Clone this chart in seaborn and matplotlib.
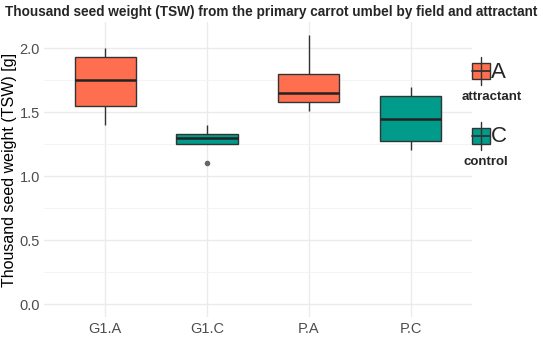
import pandas as pd
import numpy as np
import seaborn as sns
import matplotlib.pyplot as plt
from matplotlib.patches import Rectangle

# five-number style samples (min, q1, median, q3, max)
groups = ["G1.A", "G1.C", "P.A", "P.C"]
treatment = ["A", "C", "A", "C"]
tsw_g1a = [1.40, 1.55, 1.75, 1.93, 2.00]
tsw_g1c = [1.10, 1.25, 1.30, 1.325, 1.40]
tsw_pa = [1.505, 1.58, 1.65, 1.80, 2.10]
tsw_pc = [1.20, 1.275, 1.45, 1.625, 1.70]
legend_labels = {"A": "attractant", "C": "control"}
colors = {"A": "#FF6F4F", "C": "#009B8A"}

rows = []
for g, t, vals in zip(groups, treatment, [tsw_g1a, tsw_g1c, tsw_pa, tsw_pc]):
    for v in vals:
        rows.append({"group": g, "treatment": t, "tsw": v})
df = pd.DataFrame(rows)

sns.set_style("white")
plt.rcParams['font.family'] = ['Liberation Sans', 'DejaVu Sans']

fig = plt.figure(figsize=(5.5, 3.37), dpi=100)
ax = fig.add_axes([0.08, 0.058, 0.778, 0.877])

sns.boxplot(data=df, x="group", y="tsw", hue="treatment", palette=colors,
            order=groups, dodge=False, width=0.6, saturation=1,
            linecolor="#333333", linewidth=1.0, legend=False, ax=ax,
            capprops=dict(linewidth=0),
            medianprops=dict(linewidth=1.8, color="#222222"),
            flierprops=dict(marker="o", markersize=3, markerfacecolor="#666666",
                            markeredgecolor="#666666"))

ax.set_ylim(-0.105, 2.205)
ax.set_xlim(-0.6, 3.6)
ax.set_yticks([0.0, 0.5, 1.0, 1.5, 2.0])
ax.set_yticks([0.25, 0.75, 1.25, 1.75], minor=True)
ax.grid(True, which="major", color="#EBEBEB", linewidth=1.0)
ax.grid(True, which="minor", axis="y", color="#F3F3F3", linewidth=0.6)
ax.set_axisbelow(True)
for s in ax.spines.values():
    s.set_visible(False)
ax.tick_params(axis="both", length=0, labelsize=10.5, labelcolor="#4D4D4D", pad=3)
ax.set_xlabel("")
ax.set_ylabel("Thousand seed weight (TSW) [g]", fontsize=11.5, color="black", labelpad=2)

fig.text(0.009, 0.965, "Thousand seed weight (TSW) from the primary carrot umbel by field and attractant",
         fontsize=9.85, fontweight="bold", ha="left", va="center")

# legend drawn in pixel coordinates on an overlay axes
lax = fig.add_axes([0, 0, 1, 1], zorder=5)
lax.set_xlim(0, 550)
lax.set_ylim(337, 0)
lax.axis("off")
for key, ytop in [("A", 57), ("C", 122)]:
    lax.plot([481, 481], [ytop, ytop + 28], color="#333333", lw=1.0)
    lax.add_patch(Rectangle((472, ytop + 6), 18, 16, facecolor=colors[key],
                            edgecolor="#333333", lw=1.0))
    lax.plot([472, 490], [ytop + 14, ytop + 14], color="#333333", lw=1.3)
    lax.text(491, ytop + 15, key, fontsize=16, ha="left", va="center")
    lax.text(462 if key == "A" else 464, ytop + 40, legend_labels[key],
             fontsize=9.5, fontweight="bold", ha="left", va="center")

fig.savefig("out.png", dpi=100)
